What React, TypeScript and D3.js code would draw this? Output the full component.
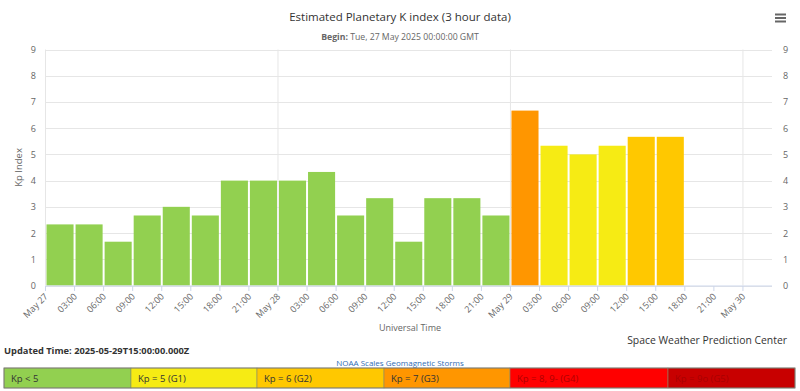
import React from "react";
import * as d3 from "d3";

const startTime = "2025-05-27T00:00:00Z";
const lastTickTime = "2025-05-30T00:00:00Z";
const endTime = "2025-05-30T03:00:00Z";
const kpValues = [2.33, 2.33, 1.67, 2.67, 3, 2.67, 4, 4, 4, 4.33, 2.67, 3.33, 1.67, 3.33, 3.33, 2.67, 6.67, 5.33, 5, 5.33, 5.67, 5.67];
const yTicks = [0, 1, 2, 3, 4, 5, 6, 7, 8, 9];
const scaleLabels = ["Kp < 5", "Kp = 5 (G1)", "Kp = 6 (G2)", "Kp = 7 (G3)", "Kp = 8, 9- (G4)", "Kp = 9o (G5)"];
const scaleColors = ["#92D050", "#F6EB14", "#FFC800", "#FF9600", "#FF0000", "#C80000"];
const scaleTextColors = ["#333333", "#333333", "#333333", "#333333", "#b00000", "#a80000"];
const scaleEdges = [4, 131, 257, 384, 510, 668, 795];

const FONT = "'Open Sans', 'DejaVu Sans', sans-serif";
const HOUR = 3600 * 1000;

function kpColor(v: number): string {
  if (v < 5) return scaleColors[0];
  if (v < 5.5) return scaleColors[1];
  if (v < 6.5) return scaleColors[2];
  if (v < 7.5) return scaleColors[3];
  if (v < 9) return scaleColors[4];
  return scaleColors[5];
}

export default function App() {
  const W = 800, H = 391;
  const x0 = new Date(startTime);
  const x1 = new Date(endTime);
  const xLast = new Date(lastTickTime);
  const x = d3.scaleUtc().domain([x0, x1]).range([45.5, 772]);
  const y = d3.scaleLinear().domain([0, 9]).range([285.5, 49.5]);

  const ticks = d3.utcHour.every(3)!.range(x0, new Date(xLast.getTime() + 1));
  const dayTicks = ticks.filter((t) => t.getUTCHours() === 0);
  const fmtTick = (t: Date) =>
    t.getUTCHours() === 0 ? d3.utcFormat("%b %-d")(t) : d3.utcFormat("%H:%M")(t);

  const bars = kpValues.map((v, i) => {
    const t = new Date(x0.getTime() + i * 3 * HOUR);
    const t2 = new Date(t.getTime() + 3 * HOUR);
    return { v, xa: x(t), xb: x(t2) };
  });

  return (
    <svg width={W} height={H} style={{ position: "absolute", left: 0, top: 0, background: "#fff" }} fontFamily={FONT}>
      <rect x={0} y={0} width={W} height={H} fill="#fff" />
      <text x={400} y={21} textAnchor="middle" fontSize={11.5} fill="#333">
        Estimated Planetary K index (3 hour data)
      </text>
      <text x={400} y={40} textAnchor="middle" fontSize={8.7} fill="#666">
        <tspan fontWeight="bold">Begin:</tspan> Tue, 27 May 2025 00:00:00 GMT
      </text>
      {[14.5, 18, 21.5].map((yy) => (
        <line key={yy} x1={775} x2={786} y1={yy} y2={yy} stroke="#666" strokeWidth={2} />
      ))}
      {yTicks.map((t) => (
        <line key={"g" + t} x1={45.5} x2={772} y1={Math.round(y(t)) + 0.5} y2={Math.round(y(t)) + 0.5} stroke="#e6e6e6" strokeWidth={1} />
      ))}
      {dayTicks.map((t) => (
        <line key={"d" + t.getTime()} x1={x(t)} x2={x(t)} y1={49.5} y2={285.5} stroke="#e6e6e6" strokeWidth={1} />
      ))}
      {bars.map((b, i) => (
        <rect key={i} x={b.xa + 1} width={b.xb - b.xa - 2} y={y(b.v)} height={y(0) - y(b.v)} fill={kpColor(b.v)} />
      ))}
      <line x1={45.5} x2={772} y1={286} y2={286} stroke="#ccd6eb" strokeWidth={1} />
      {ticks.map((t) => (
        <line key={"t" + t.getTime()} x1={x(t)} x2={x(t)} y1={286} y2={291} stroke="#ccd6eb" strokeWidth={1} />
      ))}
      {ticks.map((t) => (
        <text key={"l" + t.getTime()} transform={`translate(${x(t) + 3},${297}) rotate(-45)`} textAnchor="end" fontSize={9} fill="#666">
          {fmtTick(t)}
        </text>
      ))}
      <text x={410} y={331} textAnchor="middle" fontSize={9} fill="#666">Universal Time</text>
      {yTicks.map((t) => (
        <text key={"yl" + t} x={36} y={y(t) + 3.5} textAnchor="end" fontSize={9} fill="#666">{t}</text>
      ))}
      {yTicks.map((t) => (
        <text key={"yr" + t} x={783} y={y(t) + 3.5} textAnchor="start" fontSize={9} fill="#666">{t}</text>
      ))}
      <text transform={`translate(22,167.5) rotate(-90)`} textAnchor="middle" fontSize={9.5} fill="#666">Kp Index</text>
      <text x={787} y={344} textAnchor="end" fontSize={10.4} fill="#333">Space Weather Prediction Center</text>
      <text x={4} y={354} fontSize={9.3} fontWeight="bold" fill="#333">Updated Time: 2025-05-29T15:00:00.000Z</text>
      <text x={400} y={366} textAnchor="middle" fontSize={8} fill="#2f6db5">NOAA Scales Geomagnetic Storms</text>
      {scaleLabels.map((lab, i) => (
        <g key={lab}>
          <rect x={scaleEdges[i]} y={368} width={scaleEdges[i + 1] - scaleEdges[i]} height={20} fill={scaleColors[i]} stroke="#8a8a6a" strokeWidth={0.6} />
          <text x={scaleEdges[i] + 7} y={382} fontSize={9.5} fill={scaleTextColors[i]}>{lab}</text>
        </g>
      ))}
      <rect x={4} y={368} width={791} height={20} fill="none" stroke="#777" strokeWidth={0.8} />
    </svg>
  );
}
